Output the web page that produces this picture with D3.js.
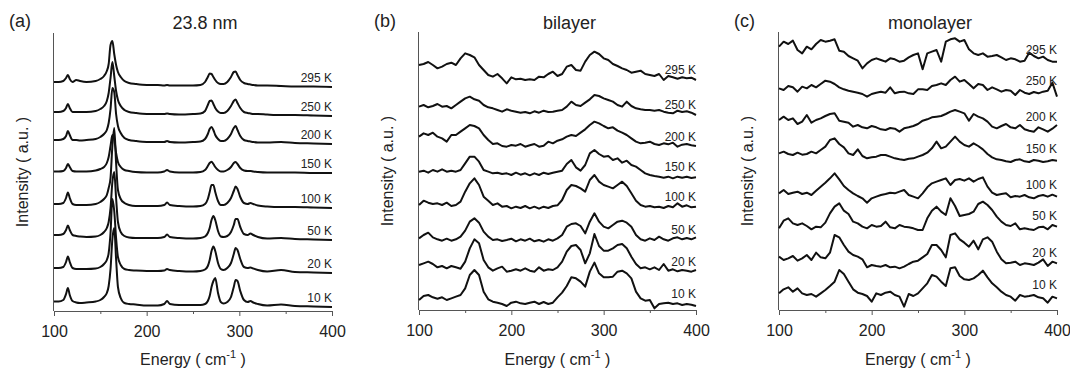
<!DOCTYPE html>
<html>
<head>
<meta charset="utf-8">
<script src="https://cdn.jsdelivr.net/npm/d3@7"></script>
<style>
  body { margin: 0; background: #fff; }
  svg { font-family: Arial, "Liberation Sans", sans-serif; }
</style>
</head>
<body>
<svg id="chart" width="1070" height="371"></svg>
<script>
// temperatures, top trace first
const temps = ['295 K', '250 K', '200 K', '150 K', '100 K', '50 K', '20 K', '10 K'];
const xTicks = [100, 150, 200, 250, 300, 350, 400];

// (a) 23.8 nm film: energies (cm-1) and intensities above each trace's baseline
const energyA = [100,105,110,113,115,117,120,124,128,135,145,150,154,157,159,161,163,165,167,169,172,176,181,188,200,212,219,222,225,235,250,258,263,266,268,270,272,274,277,280,283,287,291,294,296,298,301,305,309,312,315,320,330,345,360,380,400];
const film238 = [
  [5,5,6,9,12,8,5,7,6,5, 6,8,11,16,23,42,46,33,22,15, 10,6,4,3,2,2,1.5,2,1.5,1.5, 1.5,2,5,10,13.5,13,10,7,4,3, 3,5,10,15,15.5,12,7,4,3,2.5, 2,1.5,1.5,1,0.5,0.5,0],
  [4,4,5,8,12,8,4,4,4,4, 5,7,10,15,23,38,54,40,25,16, 10,6,4,3,2,2,2,2.5,2,1.5, 2,2.5,5,11,15,15.5,12,8,4.5,3, 3,5,10,15,16.5,13,8,4,3,2.5, 2,2,1.5,1,1,0.5,0],
  [4,4,5,8,13,9,4,4,3.5,4, 5,7,10,14,21,35,56,52,30,18, 11,6,4,3,2,2,2,3,2,1.5, 2,2.5,5,10,15,17,14,9,5,3, 3,5,10,16,18,14,8,4,3,2.5, 2,1.5,1.5,2,1,0.5,0],
  [1.5,1.5,2,5,9,6,2,1.5,1.5,1.5, 2.5,4,6,10,16,27,38,34,20,11, 6,3,2,1,0.5,0.5,1.5,3,1.5,0.5, 0.5,1,3,7,10,11.3,9,6,3,1.5, 1.5,3,6,10,11,9,5,2.5,2,2, 1.5,1,0.5,0.5,0.5,0,0],
  [4,4,5,10,15.5,10,4,3,3,3, 4,6,9,13,20,30,62,80,45,18, 9,5,3,2,2,2,3,5.5,3,2, 1.5,2,4,9,16,23,23,16,7,3, 3,5,10,17,21.5,19,11,5,4,5, 4,2.5,1.5,1,1,0.5,0],
  [5,5,6,10,14.5,10,5,4,3.5,3, 3.5,5,8,12,18,32,58,68,42,18, 8,4,2.5,2,2,2,3,5.5,3,2, 1.5,2,3.5,7,12,20,24,20,9,3.5, 3,4,8,15,21,21,13,6,5,6.5, 5,3,1.5,2,1,0.5,0],
  [5,5,6,11,16.5,11,5,4,4,4, 4.5,6,9,13,20,40,74,62,35,16, 8,4,3,2.5,2,2,2.5,4,3,2, 1.5,2,3.5,7,13,22,26.5,22,10,4, 3,5,10,19,25,23,14,6,5,5.5, 4.5,3,1.5,3,1,0.5,0],
  [5.5,5.5,7,13,19,12,6,4.5,4,4.5, 5.5,7,10,14,21,38,68,79,48,20, 9,4,3,2.5,1.5,1.5,3,6,3,2, 2,2,3,6,11,20,26,29,14,5, 3.5,5,10,20,27,26,16,7,5,6, 4.5,3,1.5,2.5,1,0.5,0]
];
const offsetsA = [224, 195, 167, 138, 103, 71, 38, 4];

// (b) bilayer and (c) monolayer share one energy grid
const energyBC = [100,105,110,115,120,125,130,135,140,145,150,155,160,165,170,175,180,185,190,195,200,205,210,215,220,225,230,235,240,245,250,255,260,265,270,275,280,285,290,295,300,305,310,315,320,325,330,335,340,345,350,355,360,365,370,375,380,385,390,395,400];
const bilayer = [
  [45,48,54,45,35,40,48,52,45,65, 80,75,68,45,30,15,10,18,5,-10, 8,2,4,0,2,0,10,8,18,25, 12,18,40,45,30,28,55,75,85,78, 65,60,48,42,35,30,22,25,28,18, 15,12,18,0,12,8,4,8,5,7,0],
  [25,30,23,27,33,25,27,20,30,40, 50,55,47,43,30,23,20,15,10,17, 13,10,7,9,5,11,7,13,9,10, 13,15,25,40,30,27,37,47,60,57, 50,45,40,30,25,40,27,20,17,15, 15,13,15,10,7,5,13,9,11,7,0],
  [30,40,35,42,30,25,15,35,35,45, 55,65,62,55,35,20,8,10,2,0, 5,3,8,0,4,8,0,3,15,10, 18,22,30,35,32,42,52,65,75,70, 62,55,58,48,42,35,25,15,10,12, 15,8,5,10,7,12,0,6,8,4,2],
  [17,20,14,22,17,24,17,20,17,22, 42,62,62,47,22,17,12,14,10,12, 7,14,8,12,6,12,7,14,10,14, 17,20,40,52,30,20,37,72,82,70, 62,64,52,57,44,50,37,32,22,12, 7,4,2,-1,2,-3,2,-1,2,-2,0],
  [7,20,14,10,12,7,14,4,7,17, 47,72,87,67,32,20,7,12,2,4, -3,2,-2,4,-3,2,-4,2,-2,4, 6,22,52,67,64,57,47,82,97,77, 67,62,57,67,77,64,42,20,7,2, 4,0,2,-2,4,0,12,2,6,0,2],
  [5,15,22,8,2,-2,4,-2,2,10, 28,55,65,52,25,10,0,2,-3,0, 4,-4,2,-2,4,-4,0,-5,2,-2, 5,15,40,48,50,42,20,55,80,55, 40,35,45,55,58,52,40,15,2,-2, 5,0,10,2,-2,5,8,2,6,2,8],
  [20,25,30,23,13,17,10,17,13,9, 30,70,97,85,35,13,3,10,15,0, 3,7,3,10,3,0,13,3,7,5, 13,30,60,77,80,65,25,55,113,77, 63,63,70,80,83,70,45,23,10,13, 7,13,5,23,3,7,1,5,3,0,5],
  [12,24,27,20,16,20,12,17,22,27, 47,87,102,87,37,14,7,4,0,-6, 4,7,2,0,4,7,0,6,0,4, 20,34,54,80,77,67,52,97,124,92, 80,80,82,97,100,92,77,37,17,10, 12,-13,0,2,4,0,2,-3,0,-2,-6]
];
const offsetsB = [690, 585, 490, 398, 308, 210, 115, 18];

const monolayer = [
  [45,60,53,63,35,25,45,37,53,65, 60,63,67,33,30,17,10,3,-20,-5, 5,10,5,0,10,7,0,3,13,20, 25,-23,25,30,35,0,60,67,70,60, 65,37,25,20,25,15,17,20,13,5, 10,7,0,3,27,17,10,15,5,0,0],
  [15,10,22,18,5,20,15,25,18,28, 38,35,28,18,12,8,5,2,-2,-10, -2,2,5,2,18,0,4,5,0,-2, 12,12,10,22,25,30,25,40,50,35, 40,28,15,28,25,10,18,12,5,10, 8,-5,10,2,-2,4,0,5,8,32,-10],
  [28,38,28,33,16,23,43,20,28,33, 40,46,48,26,23,20,8,13,6,3, 10,6,0,-2,4,2,-7,3,6,10, 16,26,30,36,38,40,46,53,58,53, 48,26,46,38,33,23,8,3,10,16, 6,3,13,0,-4,-7,6,0,-7,2,13],
  [24,29,22,19,26,20,22,29,24,34, 44,64,69,52,42,24,19,36,16,9, 12,14,19,19,14,9,6,4,8,9, 14,19,26,39,59,39,44,59,74,59, 49,44,54,46,36,22,12,6,4,0, -2,4,6,0,-2,4,2,-2,0,4,2],
  [10,20,8,12,15,8,12,5,18,30, 42,55,70,52,32,20,10,2,-5,-18, -5,0,5,8,12,10,15,20,5,0, -5,10,28,40,45,50,55,35,50,53, 48,55,45,53,58,30,12,5,8,10, -2,2,0,5,-2,-5,2,5,0,6,0],
  [0,23,30,15,10,15,7,-3,5,3, 17,45,65,75,53,43,20,15,5,0, 10,5,7,20,3,0,10,5,3,0, -5,-5,30,53,65,50,40,90,67,37, 40,43,50,73,80,70,55,35,20,10, 7,15,-3,0,-3,-5,3,5,-3,10,5],
  [25,15,20,27,13,20,30,15,37,23, 20,37,90,83,60,40,30,25,17,-7, 0,-3,-5,0,-7,-5,-10,-5,3,10, 13,23,33,60,60,45,23,90,95,77, 67,55,73,47,77,83,70,40,17,5, 7,10,0,5,3,0,7,17,-3,10,5],
  [12,24,30,17,27,12,7,10,2,12, 22,34,47,82,70,47,24,14,10,4, -13,12,7,14,17,7,2,-28,10,4, 12,27,42,67,62,47,34,87,90,64, 54,52,57,67,80,60,42,30,17,7, 2,-10,7,2,4,7,0,-3,-16,2,-3]
];
const offsetsC = [745, 650, 542, 446, 340, 245, 135, 38];

const svg = d3.select('#chart');

// panel layout
const panels = [
  { tag: '(a)', title: '23.8 nm', energy: energyA, series: film238, offsets: offsetsA,
    yMax: 278, left: 54, right: 332, top: 33, bottom: 311, curve: d3.curveMonotoneX, lift: 5 },
  { tag: '(b)', title: 'bilayer', energy: energyBC, series: bilayer, offsets: offsetsB,
    yMax: 834, left: 419, right: 696, top: 32, bottom: 310, curve: d3.curveLinear, lift: 6 },
  { tag: '(c)', title: 'monolayer', energy: energyBC, series: monolayer, offsets: offsetsC,
    yMax: 834, left: 779, right: 1057, top: 32, bottom: 310, curve: d3.curveLinear, lift: 8 }
];

panels.forEach(drawPanel);

function drawPanel(p) {
  const x = d3.scaleLinear().domain([100, 400]).range([p.left, p.right]);
  const y = d3.scaleLinear().domain([0, p.yMax]).range([p.bottom, p.top]);
  const g = svg.append('g');

  // x axis, long ticks on hundreds, short in between
  const xAxis = g.append('g')
    .attr('transform', `translate(0,${p.bottom})`)
    .call(d3.axisBottom(x).tickValues(xTicks)
      .tickFormat(d => (d % 100 ? '' : d))
      .tickSize(5).tickSizeOuter(0));
  xAxis.select('.domain').attr('stroke', '#555');
  xAxis.selectAll('.tick line')
    .attr('stroke', '#555')
    .attr('y2', d => (d % 100 ? 3 : 5));
  xAxis.selectAll('.tick text')
    .attr('dy', null).attr('y', 26)
    .attr('font-size', 16).attr('fill', '#222');

  // y axis is a bare line
  g.append('line')
    .attr('x1', p.left - 0.5).attr('x2', p.left - 0.5)
    .attr('y1', p.top).attr('y2', p.bottom)
    .attr('stroke', '#555');

  // traces
  const line = d3.line()
    .x((d, i) => x(p.energy[i]))
    .y(d => d)
    .curve(p.curve);

  p.series.forEach((vals, k) => {
    g.append('path')
      .attr('d', line(vals.map(v => y(p.offsets[k] + v))))
      .attr('fill', 'none')
      .attr('stroke', '#111')
      .attr('stroke-width', 2)
      .attr('stroke-linejoin', 'round');

    g.append('text')
      .attr('x', p.right)
      .attr('y', y(p.offsets[k]) - p.lift)
      .attr('text-anchor', 'end')
      .attr('font-size', 12)
      .attr('fill', '#222')
      .text(temps[k]);
  });

  // titles
  g.append('text')
    .attr('x', p.left - 45).attr('y', 27)
    .attr('font-size', 18).attr('fill', '#222')
    .text(p.tag);
  g.append('text')
    .attr('x', (p.left + p.right) / 2 + 12).attr('y', 29)
    .attr('text-anchor', 'middle')
    .attr('font-size', 18).attr('fill', '#222')
    .text(p.title);

  // axis labels
  const xl = g.append('text')
    .attr('x', (p.left + p.right) / 2).attr('y', 365)
    .attr('text-anchor', 'middle')
    .attr('font-size', 16).attr('fill', '#222');
  xl.append('tspan').text('Energy ( cm');
  xl.append('tspan').attr('dy', -7).attr('font-size', 11).text('-1');
  xl.append('tspan').attr('dy', 7).text(' )');

  g.append('text')
    .attr('transform', `translate(${p.left - 26},${(p.top + p.bottom) / 2}) rotate(-90)`)
    .attr('text-anchor', 'middle')
    .attr('font-size', 16).attr('fill', '#222')
    .text('Intensity ( a.u. )');
}
</script>
</body>
</html>
